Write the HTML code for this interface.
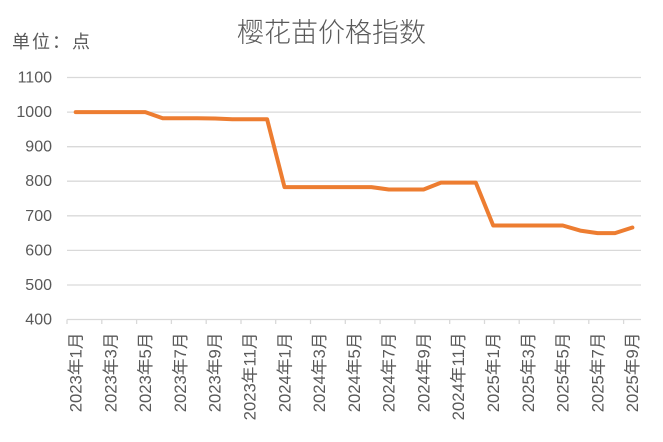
<!DOCTYPE html>
<html><head><meta charset="utf-8"><style>
html,body{margin:0;padding:0;background:#fff;}
svg{display:block;}
text{font-family:"Liberation Sans","Noto Sans CJK SC",sans-serif;fill:#595959;}
</style></head><body>
<svg width="663" height="442" viewBox="0 0 663 442" xmlns="http://www.w3.org/2000/svg">
<rect width="663" height="442" fill="#fff"/>
<text x="331.5" y="33" text-anchor="middle" dominant-baseline="central" font-size="27" style="font-weight:300">樱花苗价格指数</text>
<text x="12" y="42" dominant-baseline="central" font-size="18" letter-spacing="2">单位：点</text>
<g stroke="#d9d9d9" stroke-width="1.3">
<line x1="67" y1="77.5" x2="641" y2="77.5"/>
<line x1="67" y1="112.1" x2="641" y2="112.1"/>
<line x1="67" y1="146.7" x2="641" y2="146.7"/>
<line x1="67" y1="181.2" x2="641" y2="181.2"/>
<line x1="67" y1="215.8" x2="641" y2="215.8"/>
<line x1="67" y1="250.4" x2="641" y2="250.4"/>
<line x1="67" y1="285" x2="641" y2="285"/>
<line x1="67" y1="319.5" x2="641" y2="319.5"/>
<line x1="67" y1="319.5" x2="67" y2="324"/>
<line x1="101.8" y1="319.5" x2="101.8" y2="324"/>
<line x1="136.6" y1="319.5" x2="136.6" y2="324"/>
<line x1="171.4" y1="319.5" x2="171.4" y2="324"/>
<line x1="206.2" y1="319.5" x2="206.2" y2="324"/>
<line x1="241" y1="319.5" x2="241" y2="324"/>
<line x1="275.7" y1="319.5" x2="275.7" y2="324"/>
<line x1="310.5" y1="319.5" x2="310.5" y2="324"/>
<line x1="345.3" y1="319.5" x2="345.3" y2="324"/>
<line x1="380.1" y1="319.5" x2="380.1" y2="324"/>
<line x1="414.9" y1="319.5" x2="414.9" y2="324"/>
<line x1="449.7" y1="319.5" x2="449.7" y2="324"/>
<line x1="484.5" y1="319.5" x2="484.5" y2="324"/>
<line x1="519.2" y1="319.5" x2="519.2" y2="324"/>
<line x1="554" y1="319.5" x2="554" y2="324"/>
<line x1="588.8" y1="319.5" x2="588.8" y2="324"/>
<line x1="623.6" y1="319.5" x2="623.6" y2="324"/>
</g>
<g font-size="16" text-anchor="end" dominant-baseline="central">
<text x="52" y="78">1100</text>
<text x="52" y="112.6">1000</text>
<text x="52" y="147.2">900</text>
<text x="52" y="181.7">800</text>
<text x="52" y="216.3">700</text>
<text x="52" y="250.9">600</text>
<text x="52" y="285.5">500</text>
<text x="52" y="320">400</text>
</g>
<g font-size="16.7" text-anchor="end" dominant-baseline="central" style="fill:#636363">
<text transform="translate(76,332.5) rotate(-90)">2023年1月</text>
<text transform="translate(110.8,332.5) rotate(-90)">2023年3月</text>
<text transform="translate(145.6,332.5) rotate(-90)">2023年5月</text>
<text transform="translate(180.4,332.5) rotate(-90)">2023年7月</text>
<text transform="translate(215.2,332.5) rotate(-90)">2023年9月</text>
<text transform="translate(250,332.5) rotate(-90)">2023年11月</text>
<text transform="translate(284.8,332.5) rotate(-90)">2024年1月</text>
<text transform="translate(319.6,332.5) rotate(-90)">2024年3月</text>
<text transform="translate(354.3,332.5) rotate(-90)">2024年5月</text>
<text transform="translate(389.1,332.5) rotate(-90)">2024年7月</text>
<text transform="translate(423.9,332.5) rotate(-90)">2024年9月</text>
<text transform="translate(458.7,332.5) rotate(-90)">2024年11月</text>
<text transform="translate(493.5,332.5) rotate(-90)">2025年1月</text>
<text transform="translate(528.3,332.5) rotate(-90)">2025年3月</text>
<text transform="translate(563.1,332.5) rotate(-90)">2025年5月</text>
<text transform="translate(597.9,332.5) rotate(-90)">2025年7月</text>
<text transform="translate(632.7,332.5) rotate(-90)">2025年9月</text>
</g>
<polyline fill="none" stroke="#ED7D31" stroke-width="4" stroke-linejoin="round" stroke-linecap="round" points="
75.7,112.1 93.1,112.1 110.5,112.1 127.9,112.1 145.3,112.1
162.7,118.3 180.1,118.3 197.5,118.3 214.9,118.5
232.3,119.3 249.7,119.3 267.1,119.3
284.5,187.1 301.9,187.1 319.3,187.1 336.6,187.1 354.0,187.1 371.4,187.1
388.8,189.5 406.2,189.5 423.6,189.5
441.0,182.6 458.4,182.6 475.8,182.6
493.2,225.5 510.6,225.5 528.0,225.5 545.4,225.5 562.8,225.5
580.2,230.6 597.6,233.1 615.0,233.1 632.4,227.5"/>
</svg>
</body></html>
